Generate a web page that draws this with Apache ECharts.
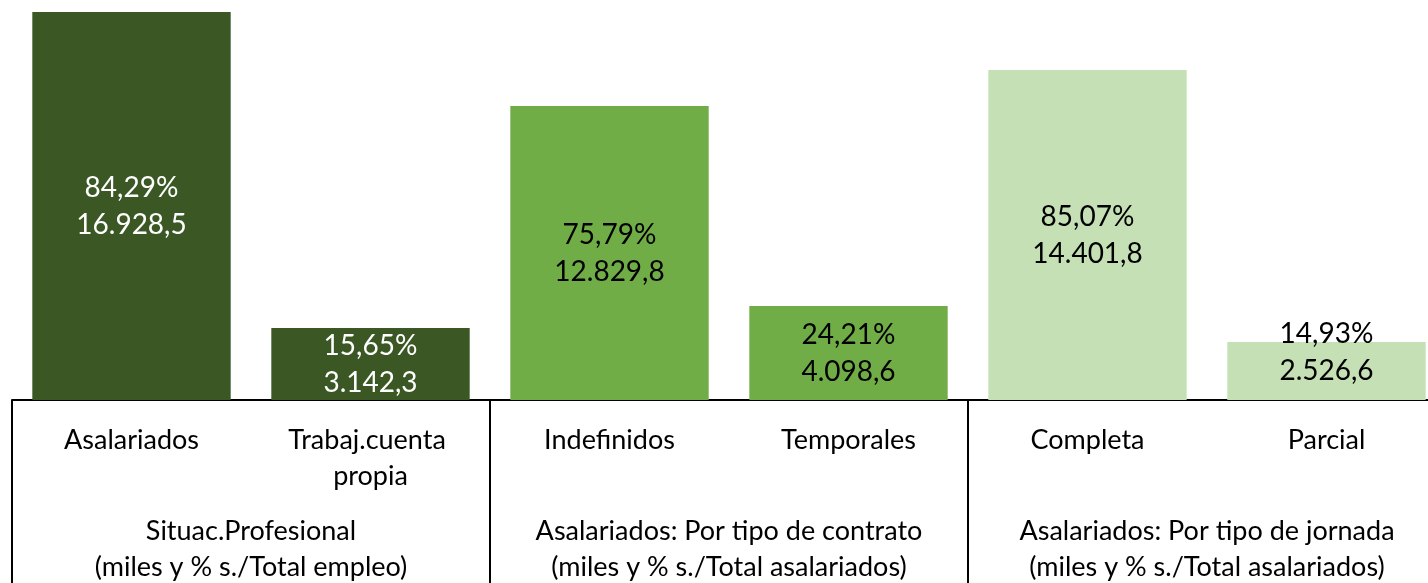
<!DOCTYPE html>
<html>
<head>
<meta charset="utf-8">
<script src="https://cdn.jsdelivr.net/npm/echarts@6/dist/echarts.min.js"></script>
<style>
  html, body { margin: 0; padding: 0; background: #fff; }
  #chart { width: 1428px; height: 583px; }
</style>
</head>
<body>
<div id="chart"></div>
<script>
const categories = ['Asalariados', 'Trabaj.cuenta propia', 'Indefinidos', 'Temporales', 'Completa', 'Parcial']
const groups = [
  'Situac.Profesional\n(miles y % s./Total empleo)',
  'Asalariados: Por tipo de contrato\n(miles y % s./Total asalariados)',
  'Asalariados: Por tipo de jornada\n(miles y % s./Total asalariados)'
]
const values = [16928.5, 3142.3, 12829.8, 4098.6, 14401.8, 2526.6]
const pcts = [84.29, 15.65, 75.79, 24.21, 85.07, 14.93]
const colors = ['#3a5724', '#3a5724', '#70ad47', '#70ad47', '#c5e0b4', '#c5e0b4']
const labelColors = ['#fff', '#fff', '#000', '#000', '#000', '#000']

const FONT = 'Lato, "Noto Sans", sans-serif'

// 16928.5 -> "16.928,5"
function fmtNum(v, dec) {
  const parts = v.toFixed(dec).split('.')
  parts[0] = parts[0].replace(/\B(?=(\d{3})+(?!\d))/g, '.')
  return parts.join(',')
}

const chart = echarts.init(document.getElementById('chart'))

chart.setOption({
  animation: false,
  textStyle: { fontFamily: FONT },
  // the plot runs past the right edge of the picture, like the original crop
  grid: { left: 12, width: 1434, top: -1, height: 401, containLabel: false, outerBoundsMode: 'none' },
  xAxis: [
    {
      type: 'category',
      data: categories,
      axisLine: { lineStyle: { color: '#000', width: 2 } },
      axisTick: { show: false },
      axisLabel: {
        interval: 0,
        margin: 22,
        color: '#000',
        fontSize: 27,
        lineHeight: 36,
        fontFamily: FONT,
        width: 210,
        overflow: 'break'
      }
    },
    {
      type: 'category',
      position: 'bottom',
      data: groups,
      axisLine: { show: false },
      axisTick: {
        show: true,
        length: 190,
        lineStyle: { color: '#000', width: 2 }
      },
      axisLabel: {
        interval: 0,
        margin: 113,
        color: '#000',
        fontSize: 27,
        lineHeight: 36,
        fontFamily: FONT
      }
    }
  ],
  yAxis: {
    type: 'value',
    min: 0,
    max: 17500,
    show: false,
    splitLine: { show: false }
  },
  series: [
    {
      type: 'bar',
      xAxisIndex: 0,
      barWidth: '83%',
      data: values.map((v, i) => ({
        value: v,
        itemStyle: { color: colors[i] },
        label: {
          color: labelColors[i],
          offset: i === 5 ? [0, -19] : [0, 0]
        }
      })),
      label: {
        show: true,
        position: 'inside',
        fontSize: 28,
        lineHeight: 37,
        fontFamily: FONT,
        formatter: p => fmtNum(pcts[p.dataIndex], 2) + '%\n' + fmtNum(p.value, 1)
      }
    }
  ]
})
</script>
</body>
</html>
